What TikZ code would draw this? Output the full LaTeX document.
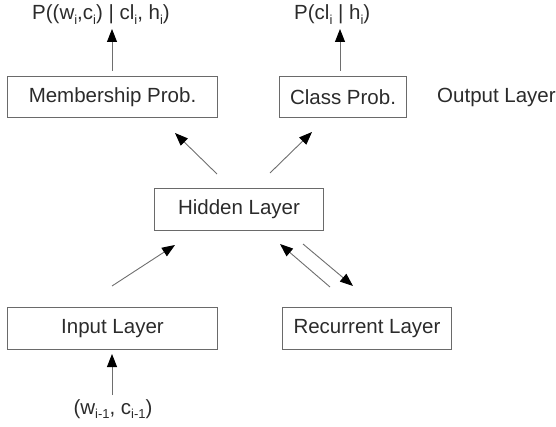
\documentclass[tikz,border=0pt]{standalone}
\usepackage{fontspec}
\setmainfont{Liberation Sans}
\usetikzlibrary{arrows.meta}
\definecolor{txt}{HTML}{2B2B2B}
\definecolor{frame}{HTML}{6A6A6A}
\definecolor{shaft}{HTML}{6E6E6E}
% lowered small subscript, as used in the probability labels
\newcommand{\lowsub}[1]{\raisebox{-4.5pt}{\fontsize{13}{13}\selectfont #1}}
\begin{document}
\begin{tikzpicture}[x=1pt,y=-1pt,
  layer/.style={draw=frame, line width=1pt, text=txt, font=\fontsize{20.5}{22}\selectfont,
                inner sep=0pt, minimum height=42pt, anchor=north west},
  lbl/.style={text=txt, font=\fontsize{20.5}{22}\selectfont, inner sep=0pt},
  flow/.style={draw=shaft, line width=0.9pt,
               -{Triangle[length=13pt,width=10pt,color=black,fill=black]}}]
\useasboundingbox (0,0) rectangle (556,427);
% layer boxes
\node[layer, minimum width=210pt, minimum height=41pt] (memb) at (7,76) {Membership Prob.};
\node[layer, minimum width=127pt, minimum height=41pt] (cls) at (279,76) {Class Prob.};
\node[lbl, anchor=west] (outl) at (437,97) {Output Layer};
\node[layer, minimum width=169pt] (hid) at (154,188) {Hidden Layer};
\node[layer, minimum width=210pt] (inp) at (7,307) {Input Layer};
\node[layer, minimum width=169pt] (rec) at (282,307) {Recurrent Layer};
% probability labels
\node[lbl, anchor=base west] (pm) at (32,20)
  {P((w\lowsub{i},c\lowsub{i}) | cl\lowsub{i}, h\lowsub{i})};
\node[lbl, anchor=base west] (pc) at (294,20) {P(cl\lowsub{i} | h\lowsub{i})};
\node[lbl, anchor=base] (win) at (113,414) {(w\lowsub{i-1}, c\lowsub{i-1})};
% arrow end points in the gaps between the layers
\coordinate (mu0) at (112,71);  \coordinate (mu1) at (112,29);
\coordinate (cu0) at (340,71);  \coordinate (cu1) at (340,29);
\coordinate (hm0) at (217,174); \coordinate (hm1) at (175,133);
\coordinate (hc0) at (270,173); \coordinate (hc1) at (312,132);
\coordinate (ih0) at (112,286); \coordinate (ih1) at (175,245);
\coordinate (hr0) at (303,244); \coordinate (hr1) at (353,286);
\coordinate (rh0) at (330,287); \coordinate (rh1) at (280,244);
\coordinate (wi0) at (112,395); \coordinate (wi1) at (112,354);
% connectors
\draw[flow] (mu0) -- (mu1);
\draw[flow] (cu0) -- (cu1);
\draw[flow] (hm0) -- (hm1);
\draw[flow] (hc0) -- (hc1);
\draw[flow] (ih0) -- (ih1);
\draw[flow] (hr0) -- (hr1);
\draw[flow] (rh0) -- (rh1);
\draw[flow] (wi0) -- (wi1);
\end{tikzpicture}
\end{document}
